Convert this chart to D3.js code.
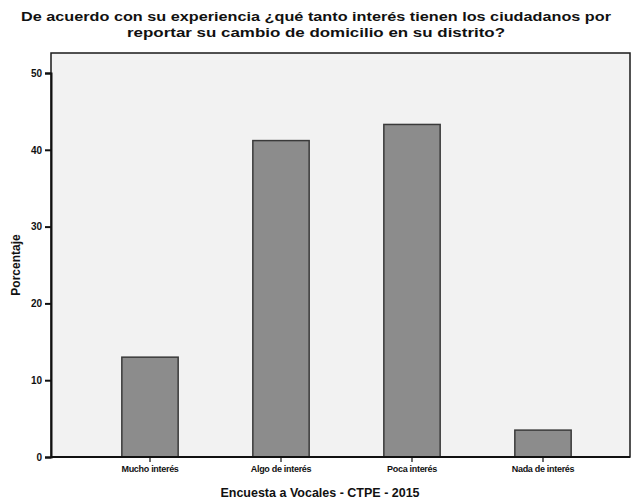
<!DOCTYPE html>
<html>
<head>
<meta charset="utf-8">
<script src="https://cdn.jsdelivr.net/npm/d3@7"></script>
<style>
  html, body { margin: 0; padding: 0; background: #ffffff; }
  svg { display: block; }
  text { font-family: "Liberation Sans", Arial, sans-serif; font-weight: bold; fill: #111; }
</style>
</head>
<body>
<svg id="chart" width="631" height="502"></svg>
<script>
// Survey answers and percentages
const categories = ["Mucho interés", "Algo de interés", "Poca interés", "Nada de interés"];
const percentages = [13.0, 41.2, 43.3, 3.5];
const yTicks = [0, 10, 20, 30, 40, 50];
const titleLines = [
  "De acuerdo con su experiencia ¿qué tanto interés tienen los ciudadanos por",
  "reportar su cambio de domicilio en su distrito?"
];
const titleWidths = [590, 378];
const xTitle = "Encuesta a Vocales  - CTPE - 2015";
const yTitle = "Porcentaje";

const svg = d3.select("#chart");
const frame = { left: 51, right: 630, top: 53, bottom: 457 };

const x = d3.scaleBand()
  .domain(categories)
  .range([84.5, 608.5])
  .paddingInner(0.57)
  .paddingOuter(0.285);

const y = d3.scaleLinear()
  .domain([0, 50])
  .range([frame.bottom, 73]);

// plot background
svg.append("rect")
  .attr("x", frame.left).attr("y", frame.top)
  .attr("width", frame.right - frame.left)
  .attr("height", frame.bottom - frame.top)
  .attr("fill", "#f2f2f2")
  .attr("stroke", "#1a1a1a")
  .attr("stroke-width", 1.5);

// bars
svg.append("g").selectAll("rect")
  .data(categories)
  .join("rect")
  .attr("x", d => x(d))
  .attr("y", (d, i) => y(percentages[i]))
  .attr("width", x.bandwidth())
  .attr("height", (d, i) => y(0) - y(percentages[i]))
  .attr("fill", "#8c8c8c")
  .attr("stroke", "#3a3a3a")
  .attr("stroke-width", 1.5);

// y axis
const yAxis = svg.append("g")
  .attr("transform", `translate(${frame.left},0)`)
  .call(d3.axisLeft(y).tickValues(yTicks).tickSize(6).tickPadding(3).tickFormat(d3.format("d")));
yAxis.select(".domain").attr("stroke", "#111").attr("stroke-width", 2);
yAxis.selectAll(".tick line").attr("stroke", "#111").attr("stroke-width", 2);
yAxis.selectAll(".tick text").attr("font-size", 10).attr("font-family", "Liberation Sans, Arial, sans-serif").attr("font-weight", "bold").attr("fill", "#111");

// x axis
const xAxis = svg.append("g")
  .attr("transform", `translate(0,${frame.bottom})`)
  .call(d3.axisBottom(x).tickSize(5).tickPadding(4));
xAxis.select(".domain").remove();
xAxis.selectAll(".tick line").attr("stroke", "#111").attr("stroke-width", 1.2);
xAxis.selectAll(".tick text").attr("font-size", 9).attr("font-family", "Liberation Sans, Arial, sans-serif").attr("font-weight", "bold").attr("fill", "#111").attr("letter-spacing", -0.3);

svg.append("line")
  .attr("x1", frame.left).attr("x2", frame.right)
  .attr("y1", frame.bottom).attr("y2", frame.bottom)
  .attr("stroke", "#111").attr("stroke-width", 2);

// titles
svg.append("g").selectAll("text")
  .data(titleLines)
  .join("text")
  .attr("x", 316)
  .attr("y", (d, i) => 21 + i * 15.5)
  .attr("text-anchor", "middle")
  .attr("font-size", 13.5)
  .attr("textLength", (d, i) => titleWidths[i])
  .attr("lengthAdjust", "spacingAndGlyphs")
  .text(d => d);

svg.append("text")
  .attr("x", 320).attr("y", 497)
  .attr("text-anchor", "middle")
  .attr("font-size", 12.5)
  .text(xTitle);

svg.append("text")
  .attr("transform", "translate(20,265) rotate(-90)")
  .attr("text-anchor", "middle")
  .attr("font-size", 12)
  .text(yTitle);
</script>
</body>
</html>
